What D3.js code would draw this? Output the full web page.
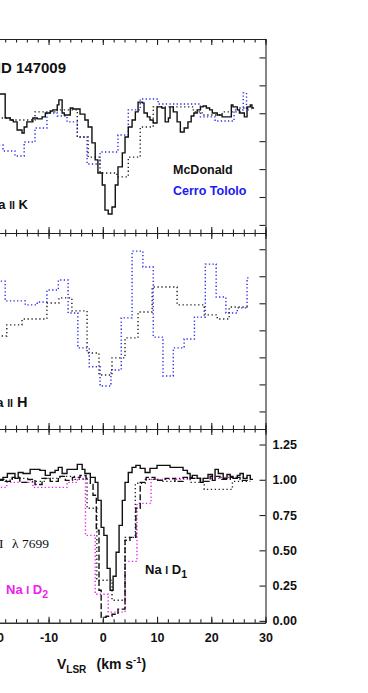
<!DOCTYPE html>
<html>
<head>
<meta charset="utf-8">
<script src="https://cdn.jsdelivr.net/npm/d3@7"></script>
<style>
  body { margin: 0; background: #fff; }
  svg { display: block; }
</style>
</head>
<body>
<div id="chart"></div>
<script>
// Ca II K, HD 147009 -- step spectra (bin left edges in km/s, last entry is the right edge)
var caK_mcd_v = [-20.8, -18.0, -17.1, -16.5, -15.8, -14.9, -14.5, -14.0, -12.9, -12.1, -11.2, -10.6, -9.7, -9.2, -8.4, -8.1, -7.5, -7.1, -6.0, -5.5, -4.2, -3.3, -2.7, -2.0, -1.4, -0.9, -0.1, 0.4, 1.0, 1.7, 2.3, 2.8, 3.6, 4.1, 4.7, 5.4, 6.0, 6.5, 7.3, 7.6, 8.2, 8.7, 9.3, 10.0, 10.9, 11.5, 12.1, 12.4, 13.0, 13.7, 14.3, 15.0, 15.7, 16.3, 16.8, 17.4, 18.0, 18.5, 19.1, 19.7, 20.2, 21.1, 22.0, 23.7, 24.0, 24.8, 25.2, 26.1, 26.6, 27.2, 27.5, 27.9];
var caK_mcd_f = [1.069, 0.983, 0.976, 0.969, 0.940, 0.929, 0.951, 0.969, 0.983, 0.980, 0.987, 1.001, 1.008, 1.012, 1.030, 1.048, 1.001, 0.994, 1.019, 1.015, 0.997, 0.976, 0.951, 0.894, 0.833, 0.786, 0.743, 0.653, 0.639, 0.664, 0.743, 0.808, 0.858, 0.915, 0.951, 0.976, 1.005, 1.040, 1.037, 1.001, 0.987, 0.976, 0.965, 1.023, 1.019, 0.969, 0.983, 1.023, 1.005, 0.969, 0.933, 0.947, 0.969, 0.990, 1.001, 1.012, 1.023, 1.026, 1.019, 1.012, 1.001, 0.994, 0.987, 1.030, 1.023, 1.012, 1.001, 0.987, 1.023, 1.030, 1.019];

var caK_mcd2_v = [-20.8, -17.1, -12.5, -8.4, -4.7, -2.7, -0.5, 2.6, 4.7, 6.9, 9.3, 16.7, 18.3, 22.0, 25.3, 27.4];
var caK_mcd2_f = [0.983, 0.976, 1.005, 1.012, 0.915, 0.843, 0.786, 0.772, 0.843, 0.951, 1.023, 1.005, 0.994, 1.005, 1.019];

var caK_ctio_v = [-20.5, -18.4, -16.2, -14.5, -12.5, -10.3, -8.4, -6.6, -4.7, -2.9, -0.5, 2.8, 4.7, 6.9, 10.2, 18.0, 20.7, 24.2, 25.9, 26.5, 27.4];
var caK_ctio_f = [0.886, 0.865, 0.847, 0.897, 0.947, 1.001, 0.990, 0.969, 0.915, 0.818, 0.861, 0.922, 1.012, 1.051, 1.033, 0.987, 0.972, 1.012, 1.073, 1.012];

// Ca II H
var caH_mcd_v = [-20.8, -17.7, -14.9, -10.3, -8.1, -5.7, -2.9, -0.7, 1.7, 4.1, 6.5, 9.1, 13.7, 18.7, 21.1, 23.3, 27.0];
var caH_mcd_f = [0.879, 0.920, 0.942, 1.001, 1.020, 0.972, 0.816, 0.735, 0.798, 0.872, 0.968, 1.060, 0.994, 0.957, 0.942, 0.986];

var caH_ctio_v = [-20.8, -18.0, -14.3, -12.1, -10.3, -8.2, -6.4, -4.6, -2.5, -0.5, 1.5, 3.4, 5.4, 7.4, 9.3, 11.1, 13.0, 15.0, 16.9, 18.9, 20.9, 22.7, 24.8, 26.6, 27.0];
var caH_ctio_f = [1.082, 1.009, 0.994, 1.005, 1.049, 1.086, 0.964, 0.835, 0.765, 0.694, 0.753, 0.946, 1.193, 1.134, 0.875, 0.731, 0.835, 0.868, 0.949, 1.145, 1.023, 0.964, 0.983, 1.094];

// K I 7699, Na I D1, Na I D2
var kI_v = [-20.8, -18.4, -17.6, -16.2, -15.6, -14.7, -13.4, -11.6, -10.6, -9.7, -8.8, -8.2, -7.5, -6.6, -4.7, -3.8, -3.3, -2.3, -1.4, -0.9, -0.3, 0.2, 0.8, 1.35, 1.9, 2.45, 3.0, 3.6, 4.1, 4.7, 5.4, 6.1, 6.9, 7.8, 8.7, 10.0, 12.4, 14.8, 15.6, 16.1, 16.5, 17.4, 18.0, 18.5, 19.4, 20.2, 20.7, 21.3, 22.2, 22.9, 23.5, 24.0, 24.8, 25.3, 25.9, 26.6, 27.2, 27.7];
var kI_f = [0.996, 1.017, 1.045, 1.010, 1.052, 1.045, 1.074, 1.067, 1.031, 1.052, 1.067, 1.088, 1.045, 1.074, 1.109, 1.074, 1.045, 1.017, 0.982, 0.854, 0.663, 0.606, 0.372, 0.217, 0.316, 0.486, 0.677, 0.854, 0.982, 1.052, 1.088, 1.102, 1.081, 1.052, 1.081, 1.102, 1.088, 1.067, 1.045, 1.017, 1.031, 1.010, 0.982, 1.010, 1.038, 0.996, 1.074, 1.045, 1.010, 1.038, 1.024, 1.010, 1.031, 1.045, 1.010, 1.031, 1.003];

var naD1_v = [-20.8, -18.0, -16.7, -15.3, -13.8, -12.5, -11.2, -9.7, -8.2, -6.9, -5.6, -4.2, -3.1, -2.3, -1.8, -1.2, -0.7, -0.3, 0.6, 1.7, 2.8, 4.1, 5.0, 6.1, 6.9, 8.0, 9.6, 11.5, 13.3, 14.8, 16.1, 18.0, 19.8, 21.6, 23.5, 25.3, 27.2];
var naD1_f = [1.003, 0.989, 1.017, 0.982, 1.003, 0.967, 1.010, 0.989, 1.024, 0.996, 1.017, 1.030, 1.010, 0.967, 0.890, 0.642, 0.217, 0.026, 0.033, 0.047, 0.083, 0.571, 0.592, 0.798, 0.982, 1.017, 0.996, 1.010, 0.989, 1.017, 1.010, 0.989, 1.024, 1.003, 1.017, 0.996];

var naD1b_v = [-20.8, -17.1, -13.4, -10.6, -7.9, -5.1, -2.9, -1.1, 1.7, 4.1, 6.0, 7.8, 10.6, 13.3, 16.1, 18.7, 23.9, 27.2];
var naD1b_f = [0.996, 1.010, 0.989, 1.010, 1.024, 1.003, 0.798, 0.288, 0.146, 0.592, 0.975, 1.003, 0.989, 1.010, 0.982, 0.932, 0.989];

var naD2_v = [-20.8, -17.7, -12.9, -6.6, -4.7, -3.2, -1.4, 1.0, 4.1, 6.3, 8.9, 16.1, 21.6, 27.2];
var naD2_f = [0.946, 0.982, 0.946, 0.982, 1.010, 0.606, 0.189, 0.062, 0.422, 0.833, 1.003, 1.010, 1.017];

var xMajor = [-30, -20, -10, 0, 10, 20, 30];
var xMinor = d3.range(-30, 31, 2);
var naTicks = [0, 0.25, 0.5, 0.75, 1.0, 1.25];
var caTicks = [0.6, 0.7, 0.8, 0.9, 1.0, 1.1, 1.2];

var W = 368, H = 693;
var SANS = "'Liberation Sans', Arial, Helvetica, sans-serif";
var SERIF = "'Liberation Serif', 'Times New Roman', serif";
var xRight = 265.5;

var svg = d3.select('#chart').append('svg')
    .attr('width', W).attr('height', H)
    .style('background', '#fff');

var x = d3.scaleLinear().domain([-30, 30]).range([-59.9, xRight]);

var panels = [
    {top: 39, bottom: 233, dom: [0.571, 1.266], ticks: caTicks},
    {top: 233, bottom: 429, dom: [0.535, 1.260], ticks: caTicks},
    {top: 429, bottom: 622.7, dom: [-0.013, 1.36], ticks: naTicks, labels: true}
];
panels.forEach(function(p) {
    p.y = d3.scaleLinear().domain(p.dom).range([p.bottom, p.top]);
});

var series = [
    {p: 0, v: caK_ctio_v, f: caK_ctio_f, color: '#2a2af0', dash: '1.3,2.3'},
    {p: 0, v: caK_mcd2_v, f: caK_mcd2_f, color: '#222', dash: '1.3,2.6'},
    {p: 0, v: caK_mcd_v, f: caK_mcd_f, color: '#111', dash: null},
    {p: 1, v: caH_ctio_v, f: caH_ctio_f, color: '#2a2af0', dash: '1.3,2.3'},
    {p: 1, v: caH_mcd_v, f: caH_mcd_f, color: '#222', dash: '1.3,2.6'},
    {p: 2, v: naD2_v, f: naD2_f, color: '#f020f0', dash: '1.3,2.3'},
    {p: 2, v: naD1b_v, f: naD1b_f, color: '#222', dash: '1.3,2.6'},
    {p: 2, v: naD1_v, f: naD1_f, color: '#111', dash: '6,2.5'},
    {p: 2, v: kI_v, f: kI_f, color: '#111', dash: null}
];

// frame + ticks
function styleAxis(g) {
    g.attr('font-family', SANS).style('color', '#222');
    g.selectAll('path, line').attr('stroke-width', 1.1);
}
// plain hyphen for negatives, like the original
var intFmt = function(d) { return String(d); };

panels.forEach(function(p, i) {
    var ticksTop = d3.axisTop(x).tickValues(xMajor).tickSize(-6).tickSizeOuter(0).tickFormat('');
    var minorTop = d3.axisTop(x).tickValues(xMinor).tickSize(-3.5).tickSizeOuter(0).tickFormat('');
    svg.append('g').attr('transform', 'translate(0,' + p.top + ')').call(ticksTop).call(styleAxis);
    svg.append('g').attr('transform', 'translate(0,' + p.top + ')').call(minorTop).call(styleAxis);

    var ticksBot = d3.axisBottom(x).tickValues(xMajor).tickSize(-6).tickSizeOuter(0)
        .tickPadding(10).tickFormat(p.labels ? intFmt : '');
    var minorBot = d3.axisBottom(x).tickValues(xMinor).tickSize(-3.5).tickSizeOuter(0).tickFormat('');
    var gb = svg.append('g').attr('transform', 'translate(0,' + p.bottom + ')').call(ticksBot).call(styleAxis);
    svg.append('g').attr('transform', 'translate(0,' + p.bottom + ')').call(minorBot).call(styleAxis);
    gb.selectAll('text').attr('font-size', 12.5).attr('font-weight', 'bold').attr('fill', '#111');

    var yr = d3.axisRight(p.y).tickValues(p.ticks).tickSize(-6).tickSizeOuter(0).tickPadding(7)
        .tickFormat(p.labels ? d3.format('.2f') : '');
    var gr = svg.append('g').attr('transform', 'translate(' + xRight + ',0)').call(yr).call(styleAxis);
    gr.selectAll('text').attr('font-size', 12.5).attr('font-weight', 'bold').attr('fill', '#111');
});

// spectra
var line = d3.line()
    .x(function(d) { return x(d.v); })
    .curve(d3.curveStepAfter);

series.forEach(function(s) {
    var p = panels[s.p];
    var pts = s.f.map(function(f, i) { return {v: s.v[i], f: f}; });
    pts.push({v: s.v[s.v.length - 1], f: s.f[s.f.length - 1]});
    svg.append('path')
        .datum(pts)
        .attr('fill', 'none')
        .attr('stroke', s.color)
        .attr('stroke-width', 1.4)
        .attr('stroke-dasharray', s.dash)
        .attr('d', line.y(function(d) { return p.y(d.f); }));
});

// labels
function label(xp, yp, txt, size, opts) {
    opts = opts || {};
    return svg.append('text')
        .attr('x', xp).attr('y', yp)
        .attr('font-family', opts.family || SANS)
        .attr('font-weight', opts.weight || 'bold')
        .attr('font-size', size)
        .attr('fill', opts.fill || '#111')
        .attr('text-anchor', opts.anchor || 'start')
        .text(txt);
}

label(66, 72.7, 'HD 147009', 15, {anchor: 'end'});

var tk = svg.append('text').attr('x', 28).attr('y', 209)
    .attr('font-family', SANS).attr('font-weight', 'bold').attr('text-anchor', 'end').attr('fill', '#111');
tk.append('tspan').attr('font-size', 13).text('Ca ');
tk.append('tspan').attr('font-size', 10.5).text('II');
tk.append('tspan').attr('font-size', 13).text(' K');

var th = svg.append('text').attr('x', 27.5).attr('y', 406.7)
    .attr('font-family', SANS).attr('font-weight', 'bold').attr('text-anchor', 'end').attr('fill', '#111');
th.append('tspan').attr('font-size', 13).text('Ca ');
th.append('tspan').attr('font-size', 10.5).text('II');
th.append('tspan').attr('font-size', 14.5).text(' H');

label(173, 174, 'McDonald', 12.5);
label(173, 194.5, 'Cerro Tololo', 12.5, {fill: '#1a1af5'});

label(3.5, 547.7, 'K I', 13.5, {family: SERIF, weight: 'normal', anchor: 'end'});
label(12, 547.7, 'λ 7699', 13.5, {family: SERIF, weight: 'normal'});

function naLabel(x0, yb, sub, fill) {
    var t = svg.append('text').attr('x', x0).attr('y', yb)
        .attr('font-family', SANS).attr('font-weight', 'bold').attr('fill', fill);
    t.append('tspan').attr('font-size', 13).text('Na ');
    t.append('tspan').attr('font-size', 10.5).text('I');
    t.append('tspan').attr('font-size', 13).text(' D');
    t.append('tspan').attr('font-size', 10.5).attr('dy', 4).text(sub);
}
naLabel(6, 594, '2', '#f020f0');
naLabel(145, 574, '1', '#111');

var xt = svg.append('text').attr('y', 669.3)
    .attr('font-family', SANS).attr('font-weight', 'bold').attr('fill', '#111');
xt.append('tspan').attr('x', 57).attr('font-size', 14).text('V');
xt.append('tspan').attr('font-size', 10).attr('dy', 4).text('LSR');
xt.append('tspan').attr('x', 96.5).attr('dy', -4).attr('font-size', 14).text('(km s');
xt.append('tspan').attr('font-size', 9.5).attr('dy', -6).text('-1');
xt.append('tspan').attr('font-size', 14).attr('dy', 6).text(')');
</script>
</body>
</html>
